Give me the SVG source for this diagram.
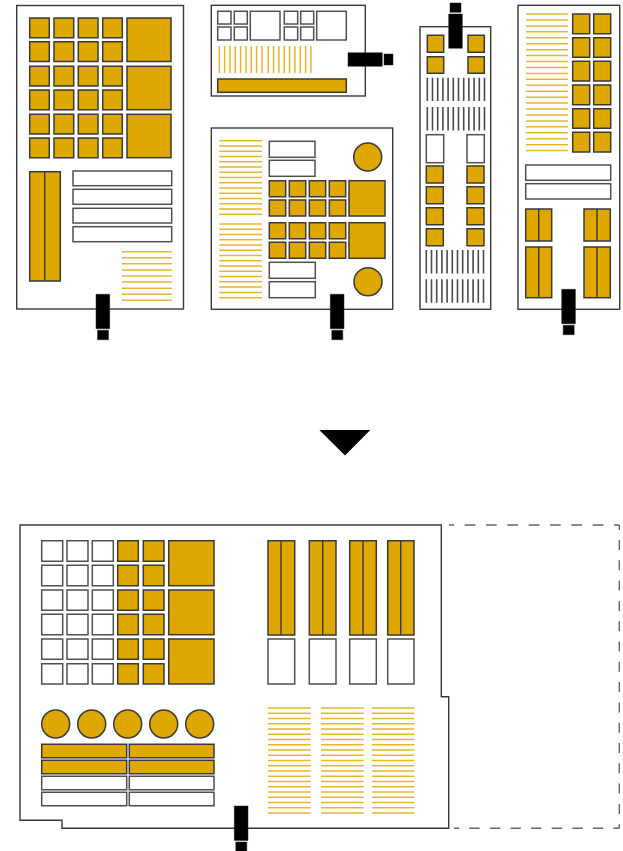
<svg xmlns="http://www.w3.org/2000/svg" width="623" height="851" viewBox="0 0 623 851">
<style>
.p{fill:#fff;stroke:#3a3a3a;stroke-width:1.4}
.g{fill:#dfa800;stroke:#3a3a3a;stroke-width:1.5}
.w{fill:#fff;stroke:#505050;stroke-width:1.5}
.d{fill:none;stroke:#3a3a3a;stroke-width:1.4}
.h{fill:none;stroke:#e6b630;stroke-width:1.5}
.v{fill:none;stroke:#4a4a4a;stroke-width:1.6}
.k{fill:#000;stroke:#222;stroke-width:.5}
.e{fill:none;stroke:#666;stroke-width:1.4}
</style>
<defs>
<path id="pl" class="k" d="M0 0h13.7v34.4h-13.7zM1.5 36h11v9.4h-11z"/>
<path id="h9" class="h" d="M0 0h49.7M0 6.08h49.7M0 12.16h49.7M0 18.24h49.7M0 24.32h49.7M0 30.4h49.7M0 36.48h49.7M0 42.56h49.7M0 48.64h49.7"/>
<path id="h15" class="h" d="M0 0h42.7M0 5.26h42.7M0 10.52h42.7M0 15.78h42.7M0 21.04h42.7M0 26.3h42.7M0 31.56h42.7M0 36.82h42.7M0 42.08h42.7M0 47.34h42.7M0 52.6h42.7M0 57.86h42.7M0 63.12h42.7M0 68.38h42.7M0 73.64h42.7"/>
<path id="h21" class="h" d="M0 0h42.7M0 5.25h42.7M0 10.5h42.7M0 15.75h42.7M0 21h42.7M0 26.25h42.7M0 31.5h42.7M0 36.75h42.7M0 42h42.7M0 47.25h42.7M0 52.5h42.7M0 57.75h42.7M0 63h42.7M0 68.25h42.7M0 73.5h42.7M0 78.75h42.7M0 84h42.7M0 89.25h42.7M0 94.5h42.7M0 99.75h42.7M0 105h42.7"/>
<path id="h24" class="h" d="M0 0h42M0 5.94h42M0 11.88h42M0 17.82h42M0 23.76h42M0 29.7h42M0 35.64h42M0 41.58h42M0 47.52h42M0 53.46h42M0 59.4h42M0 65.34h42M0 71.28h42M0 77.22h42M0 83.16h42M0 89.1h42M0 95.04h42M0 100.98h42M0 106.92h42M0 112.86h42M0 118.8h42M0 124.74h42M0 130.68h42M0 136.62h42"/>
<path id="hv9" class="h" d="M0 0v27M5.33 0v27M10.66 0v27M15.99 0v27M21.32 0v27M26.65 0v27M31.98 0v27M37.31 0v27M42.64 0v27"/>
<path id="v12" class="v" d="M0 0v23.4M5.2 0v23.4M10.4 0v23.4M15.6 0v23.4M20.8 0v23.4M26 0v23.4M31.2 0v23.4M36.4 0v23.4M41.6 0v23.4M46.8 0v23.4M52 0v23.4M57.2 0v23.4"/>
</defs>

<g id="panel-a">
<rect class="p" x="16.7" y="5.5" width="166.8" height="303.5"/>
<path class="g" d="M29.7 18h19.6v19.7h-19.6zM54 18h19.7v19.7h-19.7zM78.3 18h19.7v19.7h-19.7zM102.7 18h19.6v19.7h-19.6zM29.7 41.7h19.6v19.8h-19.6zM54 41.7h19.7v19.8h-19.7zM78.3 41.7h19.7v19.8h-19.7zM102.7 41.7h19.6v19.8h-19.6zM29.7 66.3h19.6v19.7h-19.6zM54 66.3h19.7v19.7h-19.7zM78.3 66.3h19.7v19.7h-19.7zM102.7 66.3h19.6v19.7h-19.6zM29.7 90h19.6v19.7h-19.6zM54 90h19.7v19.7h-19.7zM78.3 90h19.7v19.7h-19.7zM102.7 90h19.6v19.7h-19.6zM29.7 114.3h19.6v19.7h-19.6zM54 114.3h19.7v19.7h-19.7zM78.3 114.3h19.7v19.7h-19.7zM102.7 114.3h19.6v19.7h-19.6zM29.7 138h19.6v19.7h-19.6zM54 138h19.7v19.7h-19.7zM78.3 138h19.7v19.7h-19.7zM102.7 138h19.6v19.7h-19.6z"/>
<rect class="g" x="127" y="18" width="44" height="43.5"/>
<rect class="g" x="127" y="66.3" width="44" height="43.4"/>
<rect class="g" x="127" y="114.3" width="44" height="43.4"/>
<rect class="g" x="29.7" y="171.7" width="30.6" height="109.3"/>
<path class="d" d="M44.7 171.7V281"/>
<rect class="w" x="73" y="171" width="98.7" height="14.7"/>
<rect class="w" x="73" y="189.3" width="98.7" height="15"/>
<rect class="w" x="73" y="208.3" width="98.7" height="14.7"/>
<rect class="w" x="73" y="226.7" width="98.7" height="15"/>
<use href="#h9" x="122" y="251.7"/>
<use href="#pl" x="96" y="294.3"/>
</g>

<g id="panel-b">
<rect class="p" x="211.3" y="5.3" width="154" height="90.7"/>
<path class="w" d="M217.7 11.3h13.3v12.7h-13.3zM234.3 11.3h13v12.7h-13zM284.3 11.3h13.4v12.7h-13.4zM300.7 11.3h13v12.7h-13zM217.7 27h13.3v13h-13.3zM234.3 27h13v13h-13zM284.3 27h13.4v13h-13.4zM300.7 27h13v13h-13z"/>
<rect class="w" x="250.3" y="11.3" width="29.7" height="28.7"/>
<rect class="w" x="316.7" y="11.3" width="29.6" height="28.7"/>
<use href="#hv9" x="219.3" y="46"/>
<use href="#hv9" x="268.3" y="46"/>
<rect class="g" x="217.7" y="79" width="128.6" height="13.3"/>
<path class="k" d="M348 52.7h34.3v13.6h-34.3zM384 54h9v11h-9z"/>
</g>

<g id="panel-c">
<rect class="p" x="211.3" y="128" width="181.4" height="181.3"/>
<use href="#h15" x="219.3" y="140.7"/>
<use href="#h15" x="219.3" y="224"/>
<rect class="w" x="269.3" y="141.3" width="45.7" height="16"/>
<rect class="w" x="269.3" y="160.3" width="45.7" height="16"/>
<rect class="w" x="269.3" y="262.3" width="46" height="16"/>
<rect class="w" x="269.3" y="281.7" width="46" height="16"/>
<path class="g" d="M269.3 180.7h16.4v16h-16.4zM289.3 180.7h16.4v16h-16.4zM309.3 180.7h16.4v16h-16.4zM329.3 180.7h16.4v16h-16.4zM269.3 200h16.4v16h-16.4zM289.3 200h16.4v16h-16.4zM309.3 200h16.4v16h-16.4zM329.3 200h16.4v16h-16.4zM269.3 222.7h16.4v16h-16.4zM289.3 222.7h16.4v16h-16.4zM309.3 222.7h16.4v16h-16.4zM329.3 222.7h16.4v16h-16.4zM269.3 242.3h16.4v16h-16.4zM289.3 242.3h16.4v16h-16.4zM309.3 242.3h16.4v16h-16.4zM329.3 242.3h16.4v16h-16.4z"/>
<rect class="g" x="349" y="180.7" width="36" height="35.3"/>
<rect class="g" x="349" y="222.7" width="36" height="35.6"/>
<circle class="g" cx="367.7" cy="157" r="14"/>
<circle class="g" cx="368" cy="281.7" r="14"/>
<use href="#pl" x="330.3" y="294.3"/>
</g>

<g id="panel-d">
<rect class="p" x="420" y="26.7" width="70.7" height="282.6"/>
<path class="g" d="M427.3 35.3h16.4v17h-16.4zM468 35.3h16.3v17h-16.3zM427.3 56.7h16.4v16.6h-16.4zM468 56.7h16.3v16.6h-16.3zM426.3 166h17v17h-17zM467 166h17v17h-17zM426.3 186.7h17v17h-17zM467 186.7h17v17h-17zM426.3 207.7h17v17h-17zM467 207.7h17v17h-17zM426.3 228.7h17v17h-17zM467 228.7h17v17h-17z"/>
<use href="#v12" x="427.3" y="77.7"/>
<use href="#v12" x="427.3" y="107"/>
<use href="#v12" x="426.3" y="250"/>
<use href="#v12" x="426.3" y="279.3"/>
<rect class="w" x="426.3" y="134.7" width="17.4" height="28"/>
<rect class="w" x="467" y="134.7" width="17.3" height="28"/>
<path class="k" d="M448.7 14h13.6v34.3h-13.6zM450 3h11v9.3h-11z"/>
</g>

<g id="panel-e">
<rect class="p" x="518" y="5.3" width="101.7" height="304"/>
<use href="#h24" x="526" y="14"/>
<path class="g" d="M572.7 14h17v19.7h-17zM593.7 14h17v19.7h-17zM572.7 37.7h17v19.6h-17zM593.7 37.7h17v19.6h-17zM572.7 61.3h17v19.7h-17zM593.7 61.3h17v19.7h-17zM572.7 85h17v19.7h-17zM593.7 85h17v19.7h-17zM572.7 108.7h17v19.6h-17zM593.7 108.7h17v19.6h-17zM572.7 132.3h17v19.7h-17zM593.7 132.3h17v19.7h-17z"/>
<rect class="w" x="525.7" y="165" width="85" height="15.3"/>
<rect class="w" x="525.7" y="183.7" width="85" height="15.3"/>
<rect class="g" x="525.7" y="209" width="26" height="32"/>
<rect class="g" x="584" y="209" width="26.3" height="32"/>
<rect class="g" x="525.7" y="247" width="26" height="50.7"/>
<rect class="g" x="584" y="247" width="26.3" height="50.7"/>
<path class="d" d="M538.7 209v32M597 209v32M538.7 247v50.7M597 247v50.7"/>
<use href="#pl" x="561.7" y="289.3"/>
</g>

<path id="arrow" fill="#000" d="M319.3 430h51L345 455.5z"/>

<g id="merged-panel">
<path class="e" stroke-dasharray="10.7 10.63" d="M449 525h5M464.7 525H619.3"/>
<path class="e" stroke-dasharray="10 10.3" d="M619.3 525v5M619.3 540V828.3"/>
<path class="e" stroke-dasharray="10.3 10.3" d="M454 828.3h5.3M469.3 828.3H619.3"/>
<path class="p" d="M20 525H441.3V696.7H448.7V828.3H62V820.3H20z"/>
<path class="w" d="M41.7 540.7h21v20.6h-21zM67 540.7h21v20.6h-21zM92.3 540.7h21v20.6h-21zM41.7 565.3h21v20.4h-21zM67 565.3h21v20.4h-21zM92.3 565.3h21v20.4h-21zM41.7 590h21v20.3h-21zM67 590h21v20.3h-21zM92.3 590h21v20.3h-21zM41.7 614.3h21v20.4h-21zM67 614.3h21v20.4h-21zM92.3 614.3h21v20.4h-21zM41.7 639h21v20.3h-21zM67 639h21v20.3h-21zM92.3 639h21v20.3h-21zM41.7 663.7h21v20.3h-21zM67 663.7h21v20.3h-21zM92.3 663.7h21v20.3h-21z"/>
<path class="g" d="M117.7 540.7h20.6v20.6h-20.6zM143.3 540.7h20.7v20.6h-20.7zM117.7 565.3h20.6v20.4h-20.6zM143.3 565.3h20.7v20.4h-20.7zM117.7 590h20.6v20.3h-20.6zM143.3 590h20.7v20.3h-20.7zM117.7 614.3h20.6v20.4h-20.6zM143.3 614.3h20.7v20.4h-20.7zM117.7 639h20.6v20.3h-20.6zM143.3 639h20.7v20.3h-20.7zM117.7 663.7h20.6v20.3h-20.6zM143.3 663.7h20.7v20.3h-20.7z"/>
<rect class="g" x="168.7" y="540.7" width="45.3" height="45"/>
<rect class="g" x="168.7" y="590" width="45.3" height="44.7"/>
<rect class="g" x="168.7" y="639" width="45.3" height="45"/>
<circle class="g" cx="55.7" cy="724" r="14"/>
<circle class="g" cx="91.7" cy="724" r="14"/>
<circle class="g" cx="127.7" cy="724" r="14"/>
<circle class="g" cx="163.7" cy="724" r="14"/>
<circle class="g" cx="199.7" cy="724" r="14"/>
<path class="g" d="M41.7 744.3h85v13.4h-85zM129.3 744.3h84.7v13.4h-84.7zM41.7 760.3h85v13.4h-85zM129.3 760.3h84.7v13.4h-84.7z"/>
<path class="w" d="M41.7 776.3h85v13.4h-85zM129.3 776.3h84.7v13.4h-84.7zM41.7 792.3h85v13.4h-85zM129.3 792.3h84.7v13.4h-84.7z"/>
<path class="g" d="M268 540.7h26.7V635H268zM309.3 540.7H336V635h-26.7zM349.7 540.7h26.6V635h-26.6zM387.7 540.7H414V635h-26.3z"/>
<path class="d" d="M281 540.7V635M322.7 540.7V635M363 540.7V635M400.7 540.7V635"/>
<path class="w" d="M268 639h26.7v45H268zM309.3 639H336v45h-26.7zM349.7 639h26.6v45h-26.6zM387.7 639H414v45h-26.3z"/>
<use href="#h21" x="268" y="708"/>
<use href="#h21" x="321" y="708"/>
<use href="#h21" x="371.7" y="708"/>
<use href="#pl" x="234.3" y="806"/>
</g>
</svg>
